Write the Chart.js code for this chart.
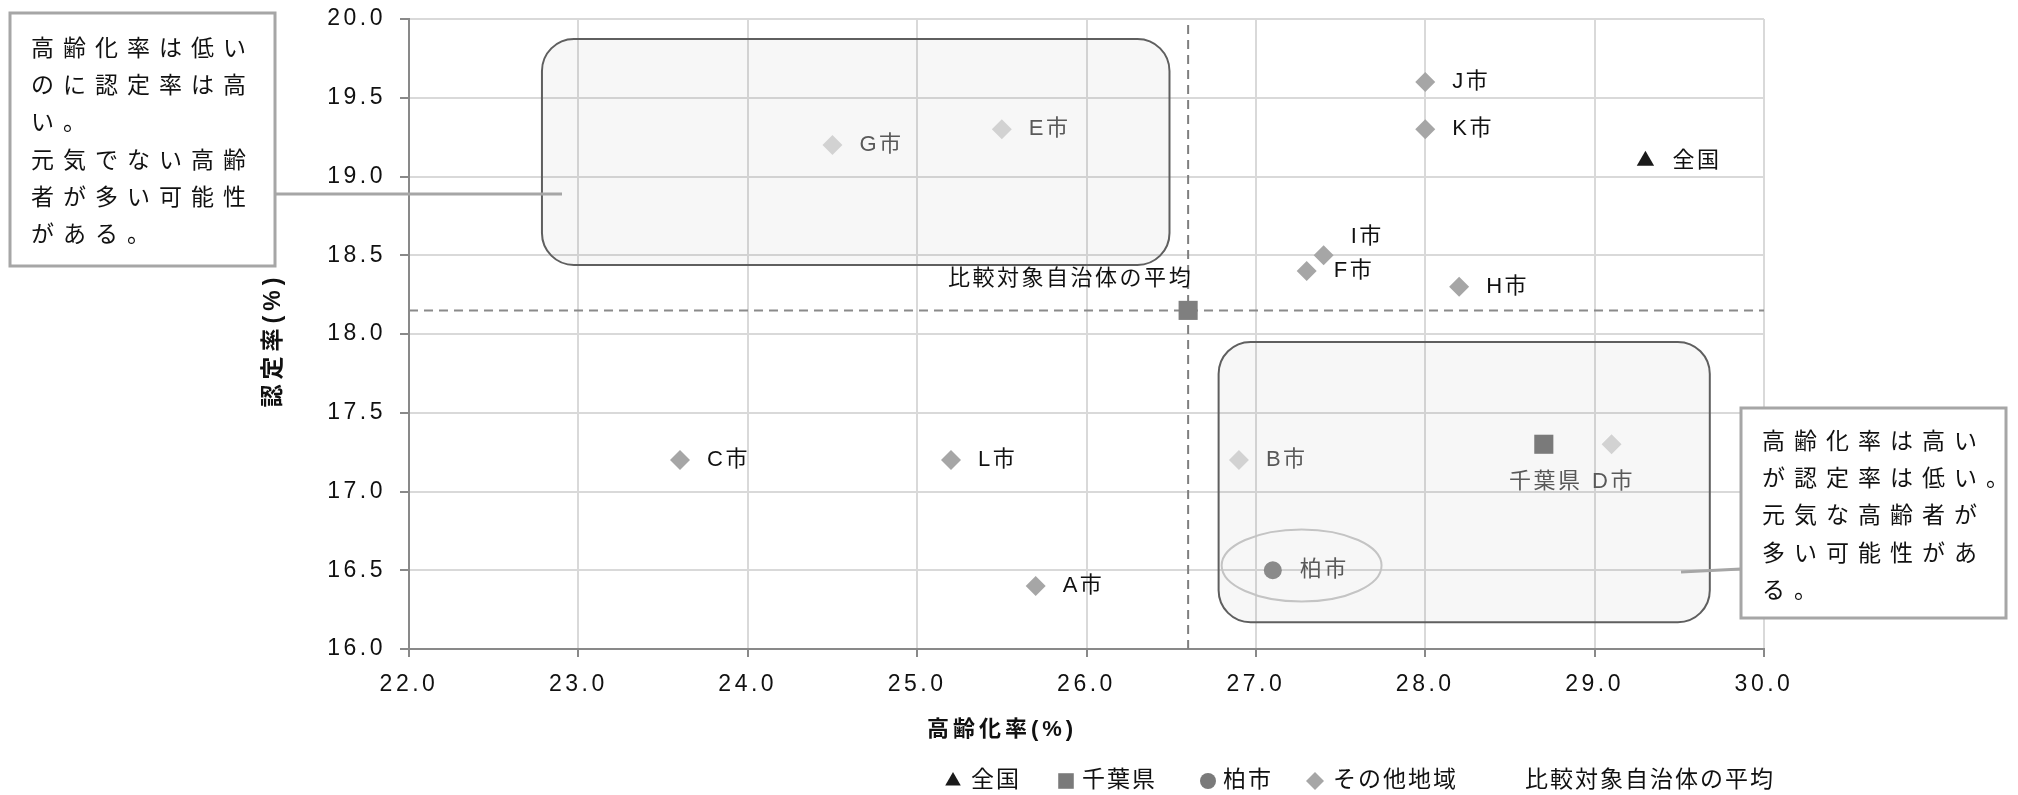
<!DOCTYPE html>
<html><head><meta charset="utf-8">
<script src="https://cdn.jsdelivr.net/npm/chart.js@4.4.0/dist/chart.umd.min.js"></script>
<style>html,body{margin:0;padding:0;background:#fff;overflow:hidden}#wrap{width:2018px;height:795px;position:relative}</style>
</head><body><div id="wrap"><canvas id="c" width="2018" height="795"></canvas></div>
<script>
// ---- data ----
const cityNames = ['A市','B市','C市','D市','E市','F市','G市','H市','I市','J市','K市','L市'];
const cityAging = [25.7, 26.9, 23.6, 29.1, 25.5, 27.3, 24.5, 28.2, 27.4, 28.0, 28.0, 25.2];
const cityCert  = [16.4, 17.2, 17.2, 17.3, 19.3, 18.4, 19.2, 18.3, 18.5, 19.6, 19.3, 17.2];
const nationAging = [29.3], nationCert = [19.1];
const chibaAging = [28.7], chibaCert = [17.3];
const kashiwaAging = [27.1], kashiwaCert = [16.5];
const avgAging = [26.6], avgCert = [18.15];
const xRange = [22, 30], yRange = [16, 20];
const xStep = 1, yStep = 0.5;
const seriesNames = ['全国', '千葉県', '柏市', 'その他地域', '比較対象自治体の平均'];
const xTitle = '高齢化率(%)', yTitle = '認定率(%)';
const note1 = ['高齢化率は低い', 'のに認定率は高', 'い。', '元気でない高齢', '者が多い可能性', 'がある。'];
const note2 = ['高齢化率は高い', 'が認定率は低い。', '元気な高齢者が', '多い可能性があ', 'る。'];

// ---- styling / placement (not data) ----
const FONT = "'Liberation Sans','Noto Sans CJK JP',sans-serif";
const JFONT = "'Noto Sans CJK JP','Liberation Sans',sans-serif";
const fadedCities = ['G市', 'E市', 'B市', 'D市'];
const grayLabels = ['G市', 'E市', 'B市', 'D市', '柏市', '千葉県'];
const placement = {'千葉県': 'below', 'D市': 'below', 'I市': 'aboveRight', '比較対象自治体の平均': 'aboveLeft'};

const pts = (xs, ys) => xs.map((x, i) => ({x, y: ys[i]}));

const labelPlugin = {
  id: 'labels',
  beforeDraw(chart) { chart.ctx.letterSpacing = '3.5px'; },
  beforeDatasetsDraw(chart) {
    const ctx = chart.ctx, xs = chart.scales.x, ys = chart.scales.y;
    const rr = (x1, y1, x2, y2, r) => {
      ctx.beginPath();
      ctx.moveTo(x1 + r, y1); ctx.lineTo(x2 - r, y1); ctx.arcTo(x2, y1, x2, y1 + r, r);
      ctx.lineTo(x2, y2 - r); ctx.arcTo(x2, y2, x2 - r, y2, r);
      ctx.lineTo(x1 + r, y2); ctx.arcTo(x1, y2, x1, y2 - r, r);
      ctx.lineTo(x1, y1 + r); ctx.arcTo(x1, y1, x1 + r, y1, r); ctx.closePath();
    };
    ctx.save();
    const boxes = [[22.785, 19.873, 26.49, 18.438], [26.78, 17.95, 29.68, 16.17]];
    boxes.forEach(b => {
      rr(xs.getPixelForValue(b[0]), ys.getPixelForValue(b[1]), xs.getPixelForValue(b[2]), ys.getPixelForValue(b[3]), 32);
      ctx.fillStyle = 'rgba(0,0,0,0.03)'; ctx.fill();
      ctx.strokeStyle = '#5f5f5f'; ctx.lineWidth = 2; ctx.stroke();
    });
    // ellipse around 柏市
    const cx = xs.getPixelForValue(27.27), cy = ys.getPixelForValue(16.53);
    const rx = xs.getPixelForValue(27.27 + 0.472) - cx, ry = cy - ys.getPixelForValue(16.53 + 0.229);
    ctx.beginPath(); ctx.ellipse(cx, cy, rx, ry, 0, 0, Math.PI * 2);
    ctx.strokeStyle = '#c4c4c4'; ctx.lineWidth = 2; ctx.stroke();
    ctx.restore();
  },
  afterDatasetsDraw(chart) {
    const ctx = chart.ctx;
    ctx.save();
    ctx.font = '22px ' + FONT; ctx.letterSpacing = '2.5px'; ctx.textBaseline = 'middle';
    for (let d = 0; d < 5; d++) {
      const meta = chart.getDatasetMeta(d);
      meta.data.forEach((el, i) => {
        const name = d === 3 ? cityNames[i] : seriesNames[d];
        const p = placement[name] || 'right';
        ctx.fillStyle = grayLabels.includes(name) ? '#595959' : '#111';
        let x = el.x, y = el.y;
        if (p === 'right') { ctx.textAlign = 'left'; x += 27; }
        else if (p === 'below') { ctx.textAlign = 'center'; y += 38; x += 2; }
        else if (p === 'aboveRight') { ctx.textAlign = 'left'; x += 27; y -= 18; }
        else if (p === 'aboveLeft') { ctx.textAlign = 'right'; x += 5; y -= 31; }
        ctx.fillText(name, x, y);
      });
    }
    ctx.restore();
  },
  afterDraw(chart) {
    const ctx = chart.ctx;
    ctx.save();
    // axis titles
    ctx.fillStyle = '#111'; ctx.textBaseline = 'middle'; ctx.textAlign = 'center';
    ctx.font = 'bold 22px ' + FONT; ctx.letterSpacing = '4px';
    ctx.fillText(xTitle, 1002, 730);
    ctx.save(); ctx.translate(274, 340); ctx.rotate(-Math.PI / 2);
    ctx.font = 'bold 23px ' + FONT; ctx.letterSpacing = '5px'; ctx.fillText(yTitle, 0, 0); ctx.restore();

    // callouts
    const callout = (x1, y1, x2, y2, lines, tx, ty, line) => {
      ctx.strokeStyle = '#a6a6a6'; ctx.lineWidth = 3;
      ctx.beginPath(); ctx.moveTo(line[0], line[1]); ctx.lineTo(line[2], line[3]); ctx.stroke();
      ctx.fillStyle = '#fff'; ctx.fillRect(x1, y1, x2 - x1, y2 - y1);
      ctx.strokeRect(x1, y1, x2 - x1, y2 - y1);
      ctx.fillStyle = '#111'; ctx.font = '23px ' + JFONT; ctx.letterSpacing = '9px';
      ctx.textAlign = 'left'; ctx.textBaseline = 'middle';
      lines.forEach((t, i) => ctx.fillText(t, tx, ty + i * 37.3));
    };
    callout(10, 13, 275, 266, note1, 31, 47, [275, 194, 562, 194]);
    callout(1741, 408, 2006, 618, note2, 1762, 440, [1681, 572, 1741, 569]);

    // legend
    const H = Chart.helpers;
    const items = [
      {ds: 0, mx: 953, tx: 971, r: 9},
      {ds: 1, mx: 1066, tx: 1082, r: 11},
      {ds: 2, mx: 1208, tx: 1223, r: 8},
      {ds: 3, mx: 1315, tx: 1333, r: 9},
      {ds: 4, mx: null, tx: 1525, r: 0}
    ];
    const ly = 781;
    items.forEach(it => {
      const ds = chart.data.datasets[it.ds];
      if (it.mx !== null) {
        ctx.fillStyle = it.ds === 3 ? '#a6a6a6' : ds.legendColor;
        H.drawPoint(ctx, {pointStyle: ds.pointStyle, radius: it.r, rotation: 0, borderWidth: 0}, it.mx, ly);
      }
      ctx.fillStyle = '#111'; ctx.font = '23px ' + FONT; ctx.letterSpacing = '2px';
      ctx.textAlign = 'left'; ctx.textBaseline = 'middle';
      ctx.fillText(ds.label, it.tx, ly);
    });
    ctx.restore();
  }
};

new Chart(document.getElementById('c'), {
  type: 'scatter',
  data: {
    datasets: [
      {label: seriesNames[0], data: pts(nationAging, nationCert), pointStyle: 'triangle', pointRadius: 10, backgroundColor: '#1a1a1a', legendColor: '#1a1a1a', borderWidth: 0},
      {label: seriesNames[1], data: pts(chibaAging, chibaCert), pointStyle: 'rect', pointRadius: 13.5, backgroundColor: '#7a7a7a', legendColor: '#7a7a7a', borderWidth: 0},
      {label: seriesNames[2], data: pts(kashiwaAging, kashiwaCert), pointStyle: 'circle', pointRadius: 9, backgroundColor: '#8a8a8a', legendColor: '#7a7a7a', borderWidth: 0},
      {label: seriesNames[3], data: pts(cityAging, cityCert), pointStyle: 'rectRot', pointRadius: 10, borderWidth: 0,
        backgroundColor: c => fadedCities.includes(cityNames[c.dataIndex]) ? '#d2d2d2' : '#a6a6a6'},
      {label: seriesNames[4], data: pts(avgAging, avgCert), pointStyle: 'rect', pointRadius: 13.5, backgroundColor: '#7f7f7f', borderWidth: 0},
      {label: 'v', data: [{x: avgAging[0], y: yRange[0]}, {x: avgAging[0], y: yRange[1]}], showLine: true, pointRadius: 0,
        borderColor: '#7f7f7f', borderWidth: 2, borderDash: [9, 6]},
      {label: 'h', data: [{x: xRange[0], y: avgCert[0]}, {x: xRange[1], y: avgCert[0]}], showLine: true, pointRadius: 0,
        borderColor: '#8a8a8a', borderWidth: 2, borderDash: [9, 6]}
    ]
  },
  options: {
    responsive: false, animation: false, devicePixelRatio: 1,
    layout: {padding: {top: 19, right: 254, left: 0, bottom: 0}},
    plugins: {legend: {display: false}, tooltip: {enabled: false}},
    elements: {point: {hoverRadius: 0}},
    scales: {
      x: {
        type: 'linear', position: 'bottom', min: xRange[0], max: xRange[1],
        ticks: {stepSize: xStep, callback: v => Number(v).toFixed(1), font: {size: 23, family: FONT}, color: '#111', padding: 14, maxRotation: 0},
        grid: {color: '#d9d9d9', lineWidth: 2, tickColor: '#898989', tickLength: 8},
        border: {color: '#898989', width: 2},
        afterFit: s => { s.height = 146; s.paddingLeft = 0; s.paddingRight = 0; }
      },
      y: {
        type: 'linear', min: yRange[0], max: yRange[1],
        ticks: {stepSize: yStep, callback: v => Number(v).toFixed(1), font: {size: 23, family: FONT}, color: '#111', padding: 14},
        grid: {color: '#d9d9d9', lineWidth: 2, tickColor: '#898989', tickLength: 9},
        border: {color: '#898989', width: 2},
        afterFit: s => { s.width = 409; s.paddingTop = 0; s.paddingBottom = 0; }
      }
    }
  },
  plugins: [labelPlugin]
});
</script></body></html>
